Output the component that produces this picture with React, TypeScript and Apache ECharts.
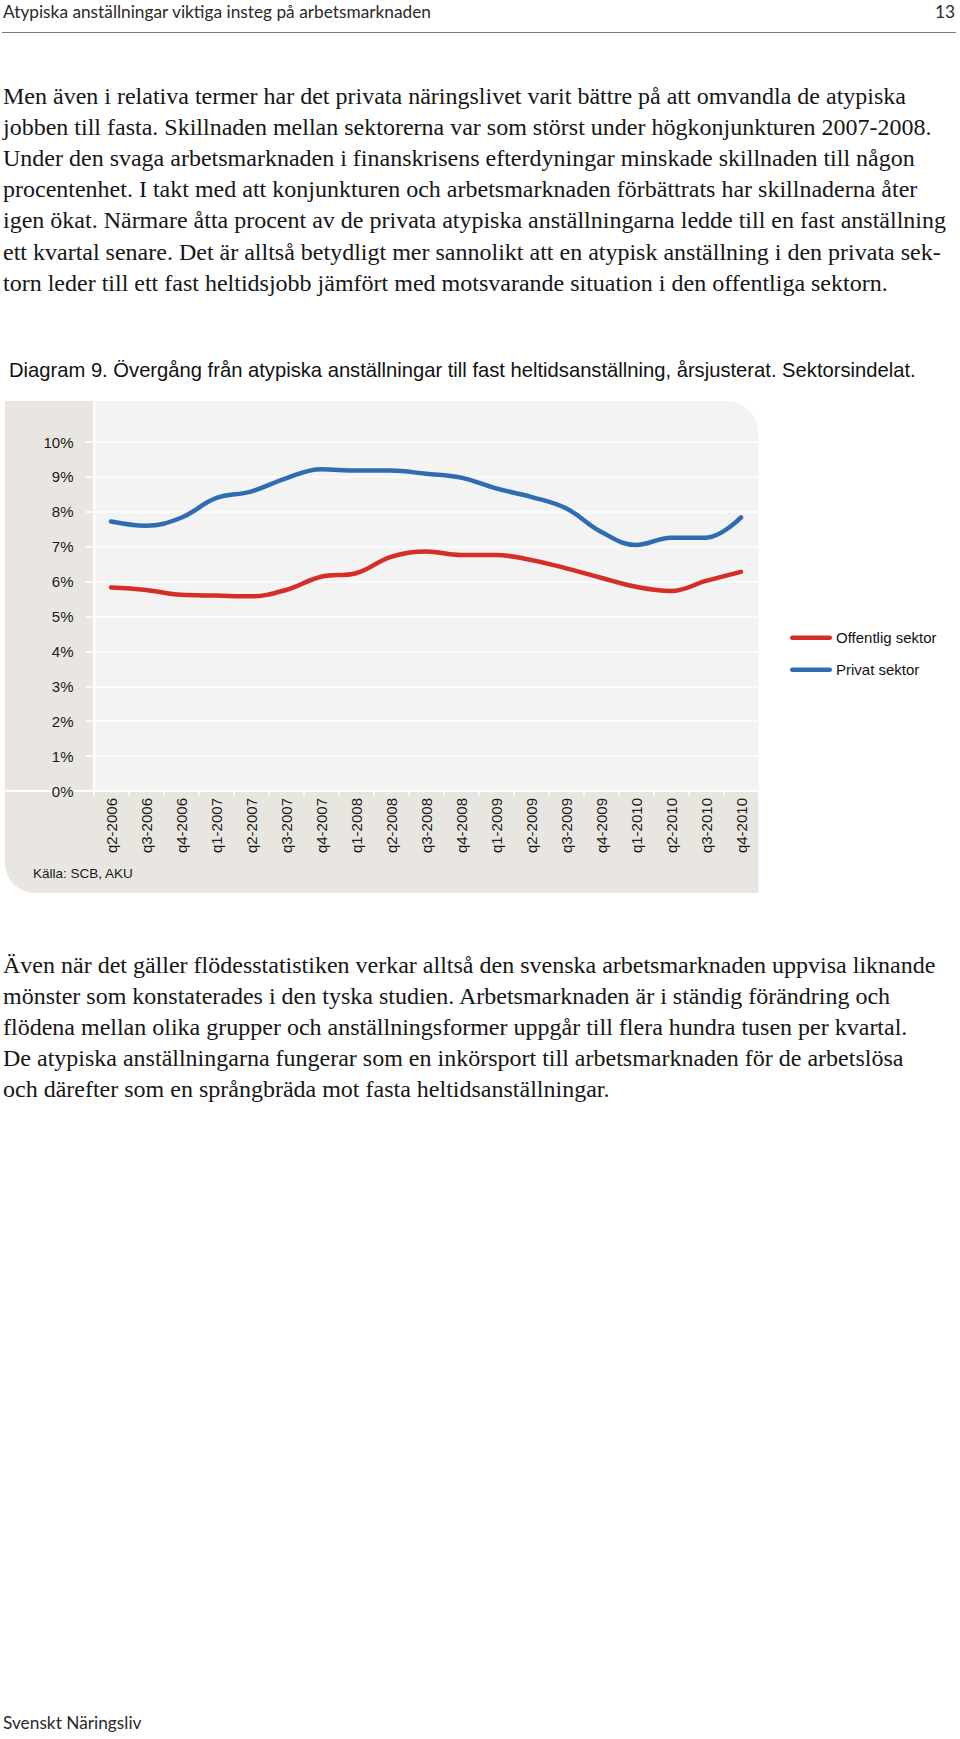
import React, { useEffect, useRef } from "react";
import * as echarts from "echarts";

// ---- data ----
const categories = [
  "q2-2006", "q3-2006", "q4-2006",
  "q1-2007", "q2-2007", "q3-2007", "q4-2007",
  "q1-2008", "q2-2008", "q3-2008", "q4-2008",
  "q1-2009", "q2-2009", "q3-2009", "q4-2009",
  "q1-2010", "q2-2010", "q3-2010", "q4-2010",
];
const offentligSektor = [
  5.83, 5.76, 5.62, 5.6, 5.58, 5.76, 6.14, 6.24, 6.71, 6.86, 6.76,
  6.76, 6.62, 6.38, 6.11, 5.85, 5.73, 6.02, 6.28,
];
const privatSektor = [
  7.72, 7.6, 7.83, 8.39, 8.58, 8.96, 9.22, 9.18, 9.18, 9.09, 8.98,
  8.67, 8.43, 8.1, 7.43, 7.05, 7.26, 7.26, 7.84,
];
const seriesNames = ["Offentlig sektor", "Privat sektor"];
const yMin = 0;
const yMax = 10;
const yInterval = 1;

// ---- texts ----
const headerTitle = "Atypiska anställningar viktiga insteg på arbetsmarknaden";
const pageNumber = "13";
const paragraph1 = [
  "Men även i relativa termer har det privata näringslivet varit bättre på att omvandla de atypiska",
  "jobben till fasta. Skillnaden mellan sektorerna var som störst under högkonjunkturen 2007-2008.",
  "Under den svaga arbetsmarknaden i finanskrisens efterdyningar minskade skillnaden till någon",
  "procentenhet. I takt med att konjunkturen och arbetsmarknaden förbättrats har skillnaderna åter",
  "igen ökat. Närmare åtta procent av de privata atypiska anställningarna ledde till en fast anställning",
  "ett kvartal senare. Det är alltså betydligt mer sannolikt att en atypisk anställning i den privata sek-",
  "torn leder till ett fast heltidsjobb jämfört med motsvarande situation i den offentliga sektorn.",
];
const diagramTitle =
  "Diagram 9. Övergång från atypiska anställningar till fast heltidsanställning, årsjusterat. Sektorsindelat.";
const sourceText = "Källa: SCB, AKU";
const paragraph2 = [
  "Även när det gäller flödesstatistiken verkar alltså den svenska arbetsmarknaden uppvisa liknande",
  "mönster som konstaterades i den tyska studien. Arbetsmarknaden är i ständig förändring och",
  "flödena mellan olika grupper och anställningsformer uppgår till flera hundra tusen per kvartal.",
  "De atypiska anställningarna fungerar som en inkörsport till arbetsmarknaden för de arbetslösa",
  "och därefter som en språngbräda mot fasta heltidsanställningar.",
];
const footerText = "Svenskt Näringsliv";

const SANS = '"Liberation Sans", Arial, Helvetica, sans-serif';
const SERIF = '"Liberation Serif", "Times New Roman", serif';
const HUMANIST = 'Lato, "Open Sans", sans-serif';

const RED = "#d52d28";
const BLUE = "#2f6db3";
const BEIGE = "#e9e6e1";
const PLOT_BG = "#f3f3f3";
const LEGEND_ICON =
  "path://M2.25,0 L39.75,0 A2.25,2.25 0 0 1 39.75,4.5 L2.25,4.5 A2.25,2.25 0 0 1 2.25,0 Z";

function Chart() {
  const ref = useRef<HTMLDivElement>(null);
  useEffect(() => {
    if (!ref.current) return;
    const chart = echarts.init(ref.current, null, { renderer: "svg" });
    const gl = 93.5;
    const gt = 52;
    const gw = 665;
    const gh = 349;
    const panelTop = 11;
    chart.setOption({
      animation: false,
      grid: { left: gl, top: gt, width: gw, height: gh, containLabel: false },
      graphic: [
        {
          type: "rect",
          z: -20,
          shape: { x: 5, y: panelTop, width: gl - 5, height: gt + gh - panelTop },
          style: { fill: BEIGE },
          silent: true,
        },
        {
          type: "rect",
          z: -20,
          shape: { x: 5, y: gt + gh, width: gl + gw - 5, height: 102, r: [0, 0, 0, 30] },
          style: { fill: BEIGE },
          silent: true,
        },
        {
          type: "rect",
          z: -20,
          shape: { x: gl, y: panelTop, width: gw, height: gt + gh - panelTop, r: [0, 33, 0, 0] },
          style: { fill: PLOT_BG },
          silent: true,
        },
        {
          type: "line",
          z: -10,
          shape: { x1: gl + 0.8, y1: panelTop, x2: gl + 0.8, y2: gt + gh },
          style: { stroke: "#ffffff", lineWidth: 2 },
          silent: true,
        },
        {
          type: "line",
          z: -10,
          shape: { x1: 5, y1: gt + gh, x2: gl + gw, y2: gt + gh },
          style: { stroke: "#ffffff", lineWidth: 2 },
          silent: true,
        },
        {
          type: "text",
          left: 33,
          top: 476,
          style: {
            text: sourceText,
            font: `13.5px ${SANS}`,
            fill: "#1a1a1a",
          },
          silent: true,
        },
      ],
      legend: {
        orient: "vertical",
        left: 790,
        top: 239.7,
        padding: 0,
        itemWidth: 42,
        itemHeight: 4.5,
        itemGap: 16,
        data: seriesNames.map((n) => ({ name: n, icon: LEGEND_ICON })),
        textStyle: {
          fontSize: 15,
          lineHeight: 16,
          fontFamily: SANS,
          color: "#111111",
          padding: [0, 0, 0, -1],
        },
      },
      xAxis: {
        type: "category",
        data: categories,
        boundaryGap: true,
        axisLine: { show: true, lineStyle: { color: "#ffffff", width: 2 } },
        axisTick: { show: true, length: 5, interval: 0, lineStyle: { color: "#ffffff", width: 1.5 } },
        axisLabel: {
          interval: 0,
          rotate: 90,
          margin: 7,
          fontSize: 15,
          fontFamily: SANS,
          color: "#1a1a1a",
        },
        splitLine: { show: false },
      },
      yAxis: {
        type: "value",
        min: yMin,
        max: yMax,
        interval: yInterval,
        axisLine: { show: true, lineStyle: { color: "#ffffff", width: 2 } },
        axisTick: { show: true, length: 8, lineStyle: { color: "#ffffff", width: 1.5 } },
        axisLabel: {
          formatter: "{value}%",
          margin: 20,
          fontSize: 15,
          fontFamily: SANS,
          color: "#1a1a1a",
        },
        splitLine: { show: true, lineStyle: { color: "#ffffff", width: 1.5 } },
      },
      series: [
        {
          name: seriesNames[0],
          type: "line",
          data: offentligSektor,
          smooth: 0.4,
          symbol: "none",
          color: RED,
          lineStyle: { color: RED, width: 4.5, cap: "round", join: "round" },
        },
        {
          name: seriesNames[1],
          type: "line",
          data: privatSektor,
          smooth: 0.4,
          symbol: "none",
          color: BLUE,
          lineStyle: { color: BLUE, width: 4.5, cap: "round", join: "round" },
        },
      ],
    });
    return () => chart.dispose();
  }, []);
  return (
    <div
      ref={ref}
      style={{ position: "absolute", left: 0, top: 390, width: 960, height: 520 }}
    />
  );
}

export default function App() {
  const serifLine: React.CSSProperties = {
    position: "absolute",
    left: 3,
    whiteSpace: "nowrap",
    fontFamily: SERIF,
    fontSize: 24,
    lineHeight: "31.2px",
    color: "#161616",
  };
  const humanist: React.CSSProperties = {
    position: "absolute",
    whiteSpace: "nowrap",
    fontFamily: HUMANIST,
    fontSize: 17.3,
    lineHeight: "24px",
    color: "#2a2a2a",
  };
  return (
    <div
      style={{
        position: "absolute",
        left: 0,
        top: 0,
        width: 960,
        height: 1739,
        background: "#ffffff",
        overflow: "hidden",
      }}
    >
      <div style={{ ...humanist, left: 3, top: 0 }}>{headerTitle}</div>
      <div style={{ ...humanist, right: 5, top: 0 }}>{pageNumber}</div>
      <div
        style={{
          position: "absolute",
          left: 2,
          top: 32,
          width: 954,
          height: 1,
          background: "#7a7a7a",
        }}
      />
      {paragraph1.map((t, i) => (
        <div key={"p1" + i} style={{ ...serifLine, top: 80.6 + i * 31.2 }}>
          {t}
        </div>
      ))}
      <div
        style={{
          position: "absolute",
          left: 9,
          top: 358,
          whiteSpace: "nowrap",
          fontFamily: SANS,
          fontSize: 20.2,
          lineHeight: "24px",
          color: "#111111",
        }}
      >
        {diagramTitle}
      </div>
      <Chart />
      {paragraph2.map((t, i) => (
        <div key={"p2" + i} style={{ ...serifLine, top: 949.6 + i * 31.2 }}>
          {t}
        </div>
      ))}
      <div style={{ ...humanist, left: 3, top: 1711 }}>{footerText}</div>
    </div>
  );
}
